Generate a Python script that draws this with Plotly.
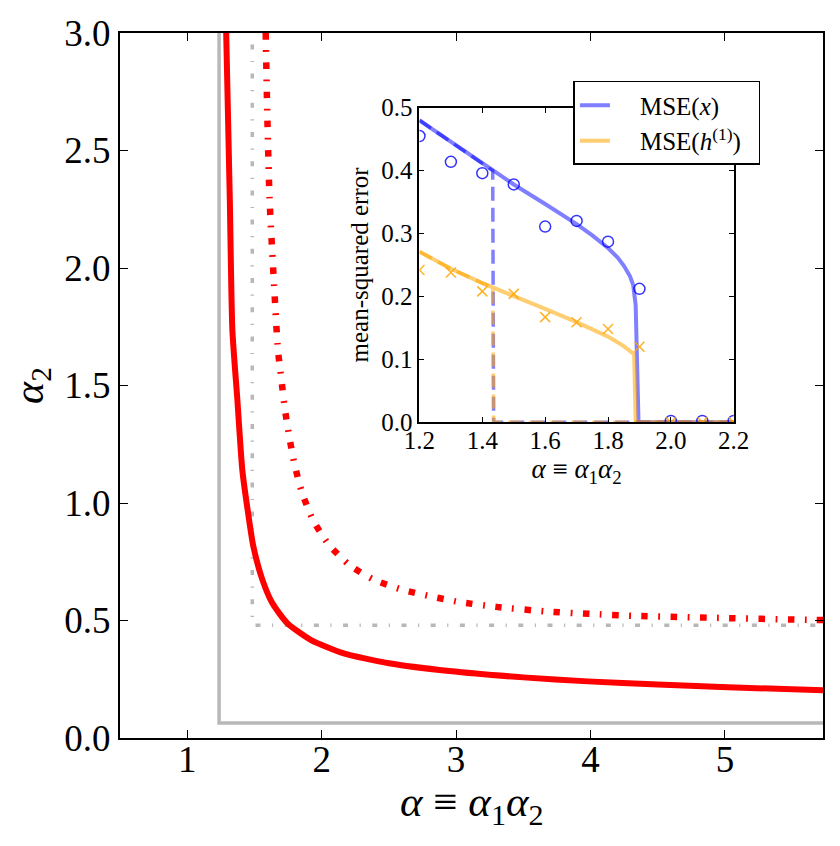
import plotly.graph_objects as go

# ---------------- main panel data ----------------
main_x_ticks = [1, 2, 3, 4, 5]
main_y_ticks = [0.0, 0.5, 1.0, 1.5, 2.0, 2.5, 3.0]

red_solid_alpha = [1.29, 1.317, 1.336, 1.373, 1.41, 1.453, 1.492, 1.559, 1.633, 1.744, 1.918,
                   2.165, 2.5, 2.95, 3.5, 3.98, 4.5, 4.97, 5.73]
red_solid_alpha2 = [3.0, 2.29, 1.737, 1.44, 1.14, 0.957, 0.815, 0.674, 0.574, 0.489, 0.418,
                    0.360, 0.318, 0.285, 0.258, 0.241, 0.228, 0.217, 0.203]

red_dashdot_alpha = [1.584, 1.596, 1.613, 1.648, 1.675, 1.70, 1.725, 1.759, 1.799, 1.855, 1.937,
                     2.053, 2.209, 2.387, 2.60, 2.81, 3.02, 3.3, 3.66, 4.0, 4.32, 4.96, 5.61, 5.73]
red_dashdot_alpha2 = [3.0, 2.645, 2.29, 1.908, 1.652, 1.529, 1.407, 1.283, 1.163, 1.043, 0.926,
                      0.823, 0.735, 0.674, 0.631, 0.603, 0.579, 0.558, 0.539, 0.528, 0.520, 0.511,
                      0.503, 0.502]

grey_solid_alpha = [1.237, 1.237, 6.0]
grey_solid_alpha2 = [3.2, 0.064, 0.064]
grey_dashdot_alpha = [1.484, 1.484, 6.0]
grey_dashdot_alpha2 = [3.2, 0.48, 0.48]

# ---------------- inset data ----------------
inset_x_ticks = [1.2, 1.4, 1.6, 1.8, 2.0, 2.2]
inset_y_ticks = [0.0, 0.1, 0.2, 0.3, 0.4, 0.5]

mse_x_solid_alpha = [1.2, 1.3, 1.4, 1.5, 1.6, 1.7, 1.75, 1.8, 1.83, 1.85, 1.87, 1.88, 1.888,
                     1.897, 2.2]
mse_x_solid = [0.480, 0.446, 0.411, 0.378, 0.347, 0.315, 0.297, 0.277, 0.262, 0.249, 0.232,
               0.218, 0.186, 0.0, 0.0]

mse_x_dashed_alpha = [1.2, 1.3, 1.4, 1.433, 1.436, 2.2]
mse_x_dashed = [0.480, 0.446, 0.411, 0.400, 0.0, 0.0]

mse_h_solid_alpha = [1.2, 1.3, 1.4, 1.5, 1.6, 1.7, 1.75, 1.8, 1.85, 1.87, 1.883, 1.888, 2.2]
mse_h_solid = [0.271, 0.244, 0.221, 0.201, 0.180, 0.159, 0.148, 0.136, 0.121, 0.114, 0.108,
               0.0, 0.0]

mse_h_dashed_alpha = [1.2, 1.3, 1.4, 1.433, 1.436, 2.2]
mse_h_dashed = [0.271, 0.244, 0.221, 0.215, 0.0, 0.0]

sim_alpha = [1.2, 1.3, 1.4, 1.5, 1.6, 1.7, 1.8, 1.9, 2.0, 2.1, 2.2]
sim_mse_x = [0.455, 0.414, 0.396, 0.378, 0.311, 0.320, 0.287, 0.212, 0.002, 0.002, 0.002]
sim_mse_h = [0.242, 0.238, 0.208, 0.204, 0.167, 0.159, 0.148, 0.120, 0.0, 0.0, 0.0]

FONT = "Liberation Serif"
BLUE = "rgba(0,0,255,0.5)"
ORANGE = "rgba(255,165,0,0.55)"
GREY = "#b8b8b8"
NB = "\u00a0"
ALPHA_LABEL = "<i>α</i> ≡ <i>α</i><sub>1</sub><i>α</i><sub>2</sub>"

fig = go.Figure()

# main panel
fig.add_trace(go.Scatter(x=grey_solid_alpha, y=grey_solid_alpha2, mode="lines",
                         line=dict(color=GREY, width=3.5), showlegend=False))
fig.add_trace(go.Scatter(x=grey_dashdot_alpha, y=grey_dashdot_alpha2, mode="lines",
                         line=dict(color=GREY, width=3.5, dash="5px,11.5px,1.2px,11.5px"),
                         showlegend=False))
fig.add_trace(go.Scatter(x=red_solid_alpha, y=red_solid_alpha2, mode="lines",
                         line=dict(color="red", width=6, shape="spline", smoothing=0.6),
                         showlegend=False))
fig.add_trace(go.Scatter(x=red_dashdot_alpha, y=red_dashdot_alpha2, mode="lines",
                         line=dict(color="red", width=6.5, dash="6.5px,10.5px,1.8px,10.5px",
                                   shape="spline", smoothing=0.6),
                         showlegend=False))

# inset
fig.add_trace(go.Scatter(x=mse_x_dashed_alpha, y=mse_x_dashed, mode="lines", xaxis="x2", yaxis="y2",
                         line=dict(color=BLUE, width=3.5, dash="14px,7px"), showlegend=False))
fig.add_trace(go.Scatter(x=mse_h_dashed_alpha, y=mse_h_dashed, mode="lines", xaxis="x2", yaxis="y2",
                         line=dict(color=ORANGE, width=3.5, dash="14px,7px"), showlegend=False))
fig.add_trace(go.Scatter(x=mse_x_solid_alpha, y=mse_x_solid, mode="lines", xaxis="x2", yaxis="y2",
                         line=dict(color=BLUE, width=4),
                         name=NB * 4 + "MSE(<i>x</i>)"))
fig.add_trace(go.Scatter(x=mse_h_solid_alpha, y=mse_h_solid, mode="lines", xaxis="x2", yaxis="y2",
                         line=dict(color=ORANGE, width=4),
                         name=NB * 4 + "MSE(<i>h</i><sup>(1)</sup>)" + NB * 2))
fig.add_trace(go.Scatter(x=sim_alpha, y=sim_mse_x, mode="markers", xaxis="x2", yaxis="y2",
                         marker=dict(symbol="circle-open", size=11, color="rgba(0,0,255,0.8)",
                                     line=dict(width=1.5)), showlegend=False))
fig.add_trace(go.Scatter(x=sim_alpha, y=sim_mse_h, mode="markers", xaxis="x2", yaxis="y2",
                         marker=dict(symbol="x-thin-open", size=10, color="rgba(255,165,0,0.85)",
                                     line=dict(width=1.5, color="rgba(255,165,0,0.85)")),
                         showlegend=False))

axis_common = dict(showline=True, linecolor="black", mirror="ticks", ticks="inside",
                   tickcolor="black", showgrid=False, zeroline=False)

fig.update_layout(
    width=840, height=846,
    margin=dict(l=120, r=1, t=33, b=108),
    paper_bgcolor="white", plot_bgcolor="white",
    font=dict(family=FONT, color="black"),
    xaxis=dict(range=[0.5, 5.73], tickvals=main_x_ticks, ticklen=8, tickwidth=1.2, linewidth=2,
               tickfont=dict(size=37, family=FONT), ticklabelstandoff=-12,
               domain=[0, 1], anchor="y", **axis_common),
    yaxis=dict(range=[0, 3.0], tickvals=main_y_ticks, tickformat=".1f", ticklen=8, tickwidth=1.2,
               linewidth=2, tickfont=dict(size=37, family=FONT),
               title=dict(text="<i>α</i><sub>2</sub>", font=dict(size=42, family=FONT), standoff=8),
               domain=[0, 1], anchor="x", **axis_common),
    xaxis2=dict(range=[1.2, 2.2], tickvals=inset_x_ticks, tickformat=".1f", ticklen=5, tickwidth=1,
                linewidth=2, tickfont=dict(size=25, family=FONT), ticklabelstandoff=-5,
                title=dict(text=ALPHA_LABEL, font=dict(size=27, family=FONT), standoff=2),
                domain=[0.426, 0.873], anchor="y2", **axis_common),
    yaxis2=dict(range=[0, 0.5], tickvals=inset_y_ticks, tickformat=".1f", ticklen=5, tickwidth=1,
                linewidth=2, tickfont=dict(size=25, family=FONT),
                title=dict(text="mean-squared error", font=dict(size=25, family=FONT), standoff=5),
                domain=[0.448, 0.894], anchor="x2", **axis_common),
    legend=dict(x=0.645, y=0.932, xanchor="left", yanchor="top", bgcolor="white",
                bordercolor="black", borderwidth=1.5, font=dict(size=25, family=FONT),
                itemwidth=30, tracegroupgap=0),
    annotations=[dict(text=ALPHA_LABEL, xref="paper", yref="paper", x=0.5, y=-0.095,
                      xanchor="center", yanchor="middle", showarrow=False,
                      font=dict(size=43, family=FONT))],
)

fig.write_html("out.html")
